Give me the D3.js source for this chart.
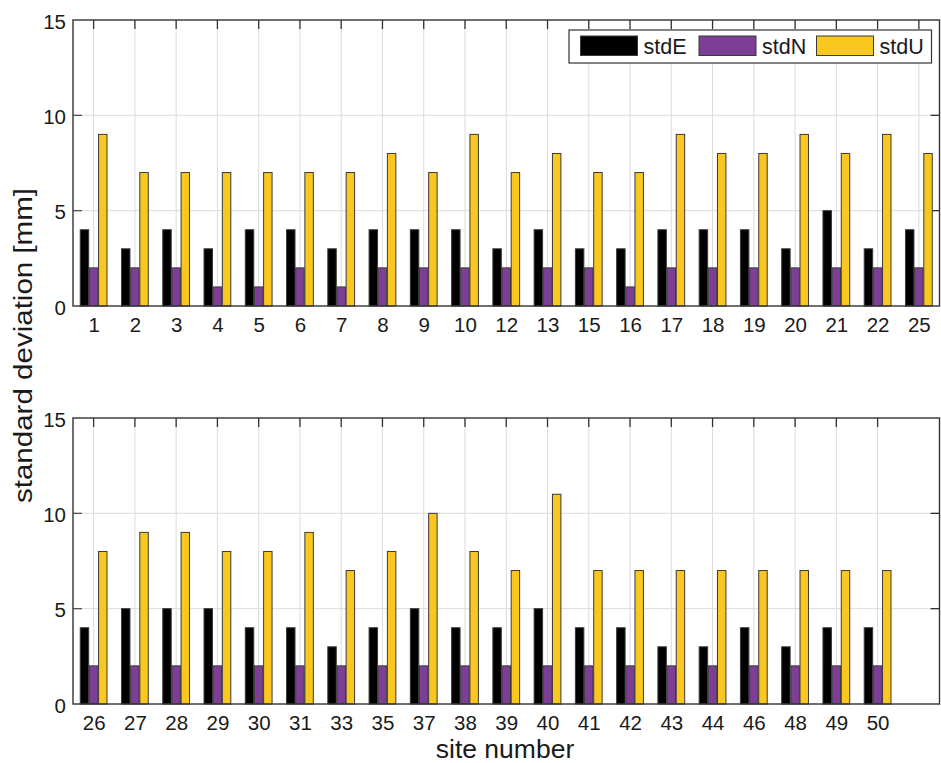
<!DOCTYPE html>
<html><head><meta charset="utf-8">
<script src="https://cdn.jsdelivr.net/npm/d3@7"></script>
<style>body{margin:0;background:#fff}svg{display:block}text{font-family:"Liberation Sans",Arial,sans-serif;fill:#1a1a1a}</style>
</head><body>
<svg id="c" width="941" height="763"></svg>
<script>
const seriesNames = ["stdE","stdN","stdU"];
const seriesColors = ["#000000","#7d3f96","#fac620"];
const sitesTop = [1,2,3,4,5,6,7,8,9,10,12,13,15,16,17,18,19,20,21,22,25];
const stdETop = [4,3,4,3,4,4,3,4,4,4,3,4,3,3,4,4,4,3,5,3,4];
const stdNTop = [2,2,2,1,1,2,1,2,2,2,2,2,2,1,2,2,2,2,2,2,2];
const stdUTop = [9,7,7,7,7,7,7,8,7,9,7,8,7,7,9,8,8,9,8,9,8];
const sitesBot = [26,27,28,29,30,31,33,35,37,38,39,40,41,42,43,44,46,48,49,50];
const stdEBot = [4,5,5,5,4,4,3,4,5,4,4,5,4,4,3,3,4,3,4,4];
const stdNBot = [2,2,2,2,2,2,2,2,2,2,2,2,2,2,2,2,2,2,2,2];
const stdUBot = [8,9,9,8,8,9,7,8,10,8,7,11,7,7,7,7,7,7,7,7];
const yTicks = [0,5,10,15];

const svg = d3.select("#c");
const left = 73, right = 939.5;
const x = d3.scaleLinear().domain([0.5, 21.5]).range([left, right]);

function panel(top, bottom, sites, series, legend) {
  const y = d3.scaleLinear().domain([0, 15]).range([bottom, top]);
  const g = svg.append("g");
  const idx = sites.map((s, i) => i + 1);
  // grid
  g.selectAll(".gx").data(idx).join("line")
    .attr("x1", d => x(d)).attr("x2", d => x(d)).attr("y1", top).attr("y2", bottom)
    .attr("stroke", "#dcdcdc").attr("stroke-width", 1);
  g.selectAll(".gy").data([5, 10]).join("line")
    .attr("x1", left).attr("x2", right).attr("y1", d => y(d)).attr("y2", d => y(d))
    .attr("stroke", "#dcdcdc").attr("stroke-width", 1);
  // top ticks (inward)
  g.selectAll(".tt").data(idx).join("line")
    .attr("x1", d => x(d)).attr("x2", d => x(d)).attr("y1", top).attr("y2", top + 9)
    .attr("stroke", "#333").attr("stroke-width", 1.3);
  // right ticks
  g.selectAll(".rt").data([5, 10]).join("line")
    .attr("x1", right).attr("x2", right - 9).attr("y1", d => y(d)).attr("y2", d => y(d))
    .attr("stroke", "#333").attr("stroke-width", 1.3);
  // bars
  const off = 0.222, bw = 0.205;
  series.forEach((vals, si) => {
    g.selectAll(".b" + si).data(vals).join("rect")
      .attr("x", (d, i) => x(i + 1 + (si - 1) * off - bw / 2))
      .attr("width", x(bw) - x(0))
      .attr("y", d => y(d)).attr("height", d => y(0) - y(d))
      .attr("fill", seriesColors[si]).attr("stroke", "#3a3a3a").attr("stroke-width", 1);
  });
  // left ticks (inward)
  g.selectAll(".lt").data([5, 10]).join("line")
    .attr("x1", left).attr("x2", left + 9).attr("y1", d => y(d)).attr("y2", d => y(d))
    .attr("stroke", "#555").attr("stroke-width", 1.3);
  // box
  g.append("rect").attr("x", left).attr("y", top).attr("width", right - left).attr("height", bottom - top)
    .attr("fill", "none").attr("stroke", "#333").attr("stroke-width", 1.4);
  // y axis labels
  const ya = d3.axisLeft(y).tickValues(yTicks).tickSize(0).tickPadding(7);
  const yg = g.append("g").attr("transform", `translate(${left},0)`).call(ya);
  yg.select(".domain").remove();
  yg.selectAll("text").style("font-size", "20.5px").attr("dy", "0.40em").attr("fill", "#1a1a1a")
    .style("font-family", '"Liberation Sans",Arial,sans-serif');
  // x labels
  const xa = d3.axisBottom(x).tickValues(idx).tickFormat((d, i) => sites[i]).tickSize(0).tickPadding(11);
  const xg = g.append("g").attr("transform", `translate(0,${bottom})`).call(xa);
  xg.select(".domain").remove();
  xg.selectAll("text").style("font-size", "20.5px").attr("fill", "#1a1a1a")
    .style("font-family", '"Liberation Sans",Arial,sans-serif');

  if (legend) {
    const lg = g.append("g");
    lg.append("rect").attr("x", 569).attr("y", 30).attr("width", 362.5).attr("height", 33)
      .attr("fill", "#fff").attr("stroke", "#333").attr("stroke-width", 1.2);
    const lx = [580.5, 699, 816.5];
    seriesNames.forEach((n, i) => {
      lg.append("rect").attr("x", lx[i]).attr("y", 36).attr("width", 57).attr("height", 19.5)
        .attr("fill", seriesColors[i]).attr("stroke", "#3a3a3a").attr("stroke-width", 1);
      lg.append("text").attr("x", lx[i] + 63).attr("y", 54).text(n).style("font-size", "21.5px");
    });
  }
}

panel(20, 306, sitesTop, [stdETop, stdNTop, stdUTop], true);
panel(418, 704, sitesBot, [stdEBot, stdNBot, stdUBot], false);

svg.append("text").attr("transform", "translate(32,345.5) rotate(-90)").attr("text-anchor", "middle")
  .style("font-size", "26px").attr("textLength", 315).attr("lengthAdjust", "spacingAndGlyphs")
  .text("standard deviation [mm]");
svg.append("text").attr("x", 505).attr("y", 758).attr("text-anchor", "middle")
  .style("font-size", "26.5px").text("site number");
</script>
</body></html>
